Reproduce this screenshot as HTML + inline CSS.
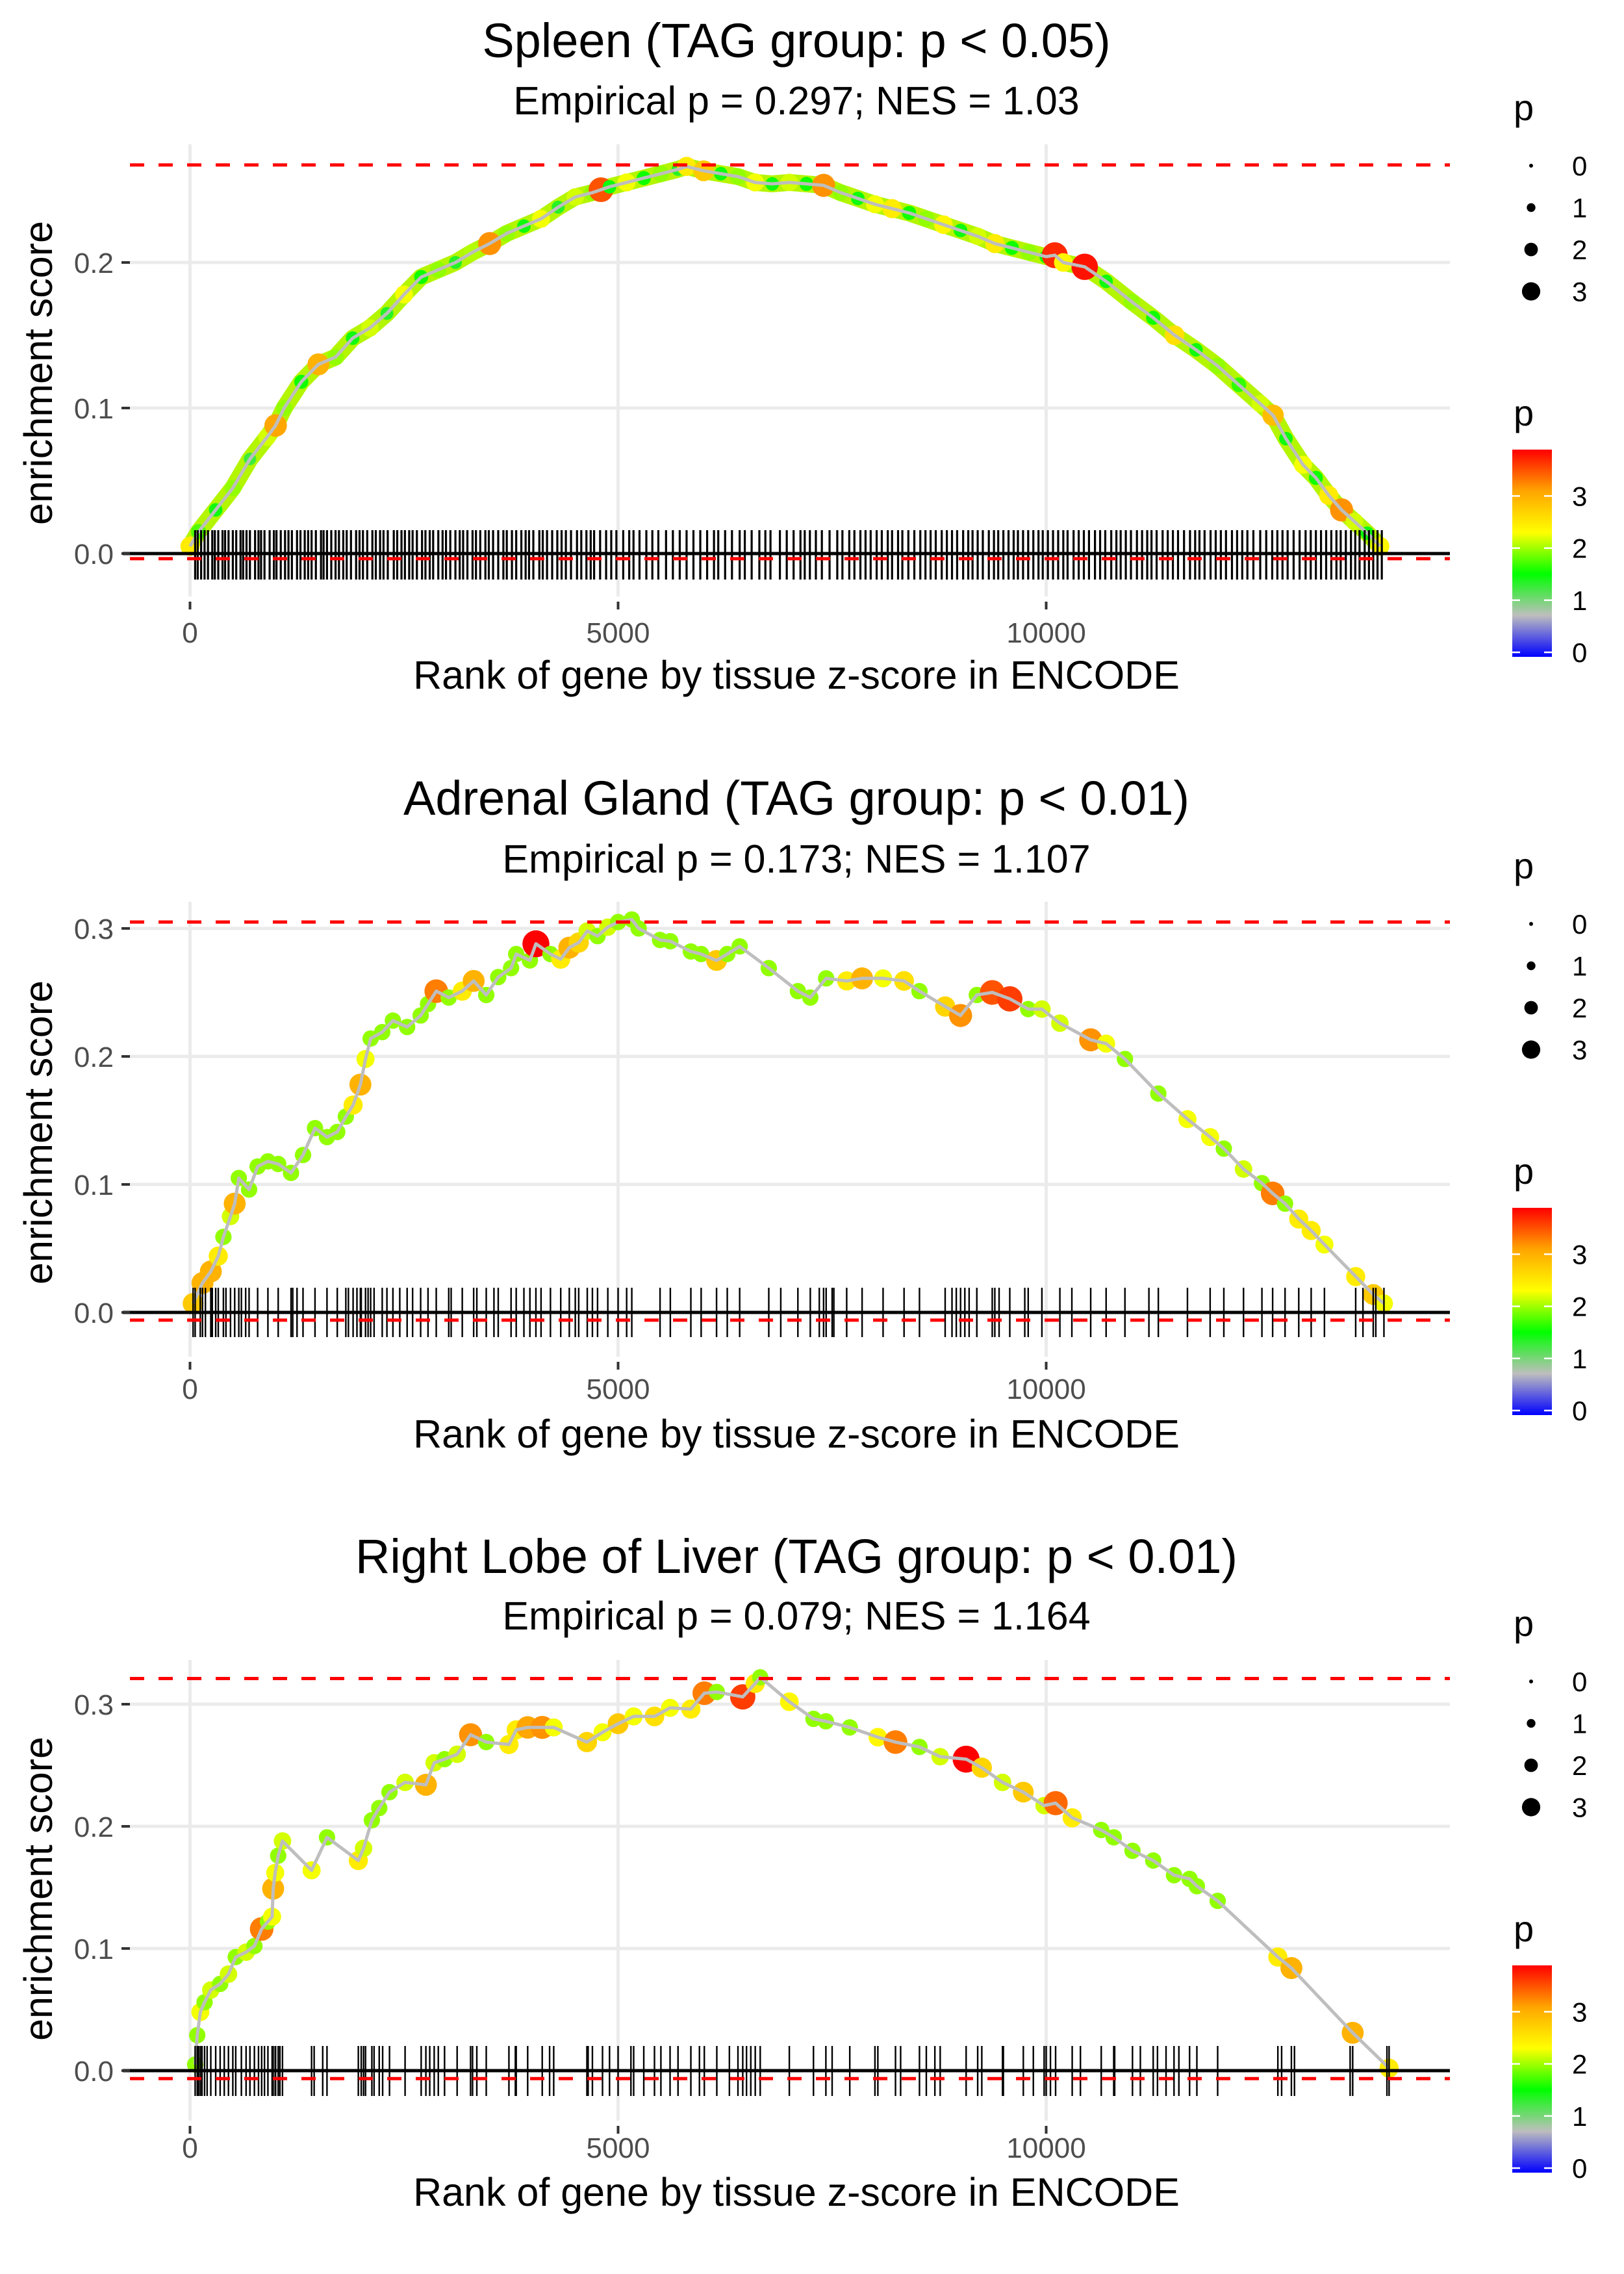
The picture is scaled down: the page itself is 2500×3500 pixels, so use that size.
<!DOCTYPE html>
<html><head><meta charset="utf-8"><style>
html,body{margin:0;padding:0;background:#fff;}
svg{display:block;font-family:"Liberation Sans",sans-serif;}
</style></head><body>
<svg id="chart" xmlns="http://www.w3.org/2000/svg" width="2500" height="3500" viewBox="0 0 2500 3500">
<defs>
<linearGradient id="pgrad" x1="0" y1="1" x2="0" y2="0">
<stop offset="0" stop-color="#0000ff"/><stop offset="0.2" stop-color="#bebebe"/><stop offset="0.4" stop-color="#00ff00"/><stop offset="0.6" stop-color="#ffff00"/><stop offset="0.8" stop-color="#ffa500"/><stop offset="1" stop-color="#ff0000"/>
</linearGradient>
</defs>
</svg>
<script>
// ---------- Panel 1: Spleen ----------
const p1Rank=[0,100,300,500,700,900,1000,1100,1300,1500,1700,1900,2100,2300,2500,2700,2900,3100,3300,3500,3700,3900,4100,4300,4500,4700,4800,4900,5100,5300,5500,5700,5800,6000,6200,6400,6600,6800,7000,7200,7400,7600,7800,8000,8200,8400,8600,8800,9000,9200,9400,9600,9800,10000,10100,10200,10450,10700,11000,11250,11500,11750,12000,12250,12500,12650,12800,13000,13150,13300,13450,13600,13750,13900];
const p1Es=[.005,.015,.03,.045,.065,.08,.088,.1,.118,.13,.135,.148,.155,.165,.178,.19,.195,.2,.207,.213,.22,.225,.23,.238,.245,.248,.25,.252,.255,.258,.261,.264,.266,.263,.261,.259,.255,.254,.255,.254,.253,.248,.244,.24,.237,.234,.23,.226,.222,.218,.213,.21,.207,.204,.205,.2,.197,.187,.173,.162,.15,.14,.129,.116,.103,.095,.079,.061,.052,.04,.03,.022,.014,.005];
const p1P=[2.5,1.8,1.5,2,1.3,2.2,3.1,2,1.6,3,2,1.5,2.2,1.4,2.3,1.6,2,1.4,2.1,3.2,2,1.5,2.3,1.4,2.2,2,3.5,1.5,2.3,1.6,2,1.4,2.5,2.8,1.5,2,2.3,1.5,2.2,1.6,3.2,2,1.5,2.3,2.5,1.6,2,2.4,1.5,2.2,2.5,1.6,2,1.5,3.7,2.4,3.8,1.5,2,1.6,2.6,1.5,2,1.7,2.2,2.9,1.5,2.3,1.6,2.5,3.2,2.2,1.5,2.4];
const p1Rug=[60,90,130,170,210,260,290,330,380,410,450,500,540,590,620,660,700,760,800,830,870,930,980,1010,1060,1110,1150,1190,1250,1290,1340,1380,1420,1470,1530,1560,1600,1650,1700,1740,1790,1830,1880,1940,1980,2020,2070,2130,2170,2220,2260,2310,2380,2420,2470,2510,2560,2600,2650,2710,2750,2800,2840,2900,2950,2990,3040,3100,3150,3190,3240,3300,3340,3390,3450,3490,3540,3600,3660,3700,3760,3810,3870,3920,3960,4010,4080,4120,4170,4230,4290,4340,4390,4450,4520,4570,4630,4680,4720,4790,4860,4920,4980,5060,5130,5180,5250,5330,5400,5470,5560,5640,5720,5800,5880,5960,6040,6120,6170,6250,6330,6420,6480,6560,6650,6720,6780,6890,6970,7050,7130,7180,7240,7310,7380,7470,7560,7620,7700,7760,7830,7890,7950,8020,8080,8150,8200,8270,8320,8390,8460,8530,8590,8650,8710,8780,8840,8900,8960,9030,9090,9140,9200,9260,9330,9390,9440,9500,9560,9620,9670,9730,9790,9850,9910,9960,10020,10080,10140,10200,10250,10320,10380,10440,10500,10570,10630,10690,10760,10820,10870,10930,10990,11060,11120,11180,11230,11290,11360,11420,11480,11540,11610,11680,11740,11790,11850,11920,11980,12040,12100,12170,12230,12290,12350,12420,12500,12570,12640,12700,12760,12820,12890,12960,13030,13090,13150,13210,13270,13330,13390,13440,13500,13560,13610,13660,13720,13770,13820,13870,13920];
const p1YTicks=[0,0.1,0.2];
const p1Max=[0.267];
const p1Min=[-0.0035];

// ---------- Panel 2: Adrenal Gland ----------
const p2Rank=[36,146,243,330,390,473,522,570,690,790,910,1030,1180,1320,1460,1600,1720,1820,1905,1990,2050,2110,2245,2370,2536,2694,2780,2876,3022,3180,3313,3460,3600,3750,3810,3970,4040,4210,4330,4430,4540,4640,4760,4880,5000,5160,5240,5490,5610,5850,5970,6150,6275,6420,6760,7100,7245,7430,7670,7850,8095,8340,8520,8820,9000,9190,9370,9575,9790,9950,10160,10520,10700,10920,11310,11650,11915,12075,12305,12520,12645,12790,12950,13095,13250,13615,13820,13945];
const p2Es=[.007,.023,.032,.044,.059,.075,.085,.105,.096,.114,.118,.116,.109,.123,.144,.137,.141,.153,.162,.178,.198,.214,.219,.228,.223,.232,.241,.251,.246,.251,.259,.248,.262,.269,.28,.275,.288,.28,.276,.285,.289,.298,.294,.301,.305,.307,.3,.291,.29,.282,.28,.275,.28,.286,.269,.251,.246,.261,.259,.261,.261,.259,.251,.239,.232,.248,.25,.245,.237,.237,.226,.213,.21,.198,.171,.151,.137,.128,.112,.101,.093,.085,.073,.064,.053,.028,.014,.007];
const p2P=[2.8,3,3,2.5,2,2.2,3,2,2,2,2,2,2,2,2,2,2,2,2.5,3,2.3,2,2,2,2,2,2,3.3,2,2.5,3,2,2,2,2,2,3.9,2,2.5,3,2.7,2.2,2,2.2,2,2,2,2,2,2,2,2.8,2,2,2,2,2,2,2.5,3,2.3,2.6,2,2.7,3.2,2,3.5,3.6,2,2.2,2.2,3.2,2.3,2,2,2.3,2.3,2,2.2,2,3.3,2,2.5,2.5,2.3,2.5,2.8,2.3];
const p2Rug=[36,60,120,146,180,243,260,300,330,390,420,473,522,570,600,650,690,790,910,1030,1180,1200,1250,1320,1460,1600,1720,1820,1850,1905,1950,1990,2000,2050,2080,2110,2150,2245,2300,2370,2450,2536,2600,2694,2780,2876,3022,3050,3180,3313,3350,3460,3550,3600,3750,3810,3900,3970,4040,4100,4210,4330,4430,4500,4540,4640,4700,4760,4880,5000,5100,5160,5490,5610,5850,5970,6150,6275,6420,6760,6900,7100,7245,7350,7400,7430,7500,7520,7670,7850,8095,8340,8520,8820,8900,8950,9000,9050,9100,9190,9370,9400,9450,9575,9750,9790,9950,10160,10300,10520,10700,10920,11200,11310,11650,11915,12075,12305,12520,12645,12790,12950,13095,13250,13615,13700,13820,13850,13945];
const p2YTicks=[0,0.1,0.2,0.3];
const p2Max=[0.305];
const p2Min=[-0.006];

// ---------- Panel 3: Right Lobe of Liver ----------
const p3Rank=[60,85,121,170,243,352,449,534,655,752,837,910,959,971,995,1030,1080,1420,1600,1966,2027,2124,2210,2330,2512,2755,2852,2973,3120,3277,3460,3725,3810,3944,4114,4248,4636,4818,5000,5182,5425,5607,5850,6007,6153,6456,6602,6660,7000,7282,7427,7706,8034,8240,8520,8762,9065,9248,9490,9733,9976,10110,10304,10643,10789,11008,11250,11493,11675,11760,12003,12706,12864,13580,14005];
const p3Es=[.005,.029,.048,.056,.066,.071,.079,.093,.097,.102,.116,.122,.126,.149,.162,.176,.188,.164,.191,.172,.182,.205,.215,.228,.236,.234,.252,.255,.259,.275,.269,.267,.279,.281,.281,.281,.269,.277,.284,.29,.29,.297,.296,.309,.31,.306,.317,.322,.302,.288,.286,.281,.273,.269,.265,.257,.255,.248,.236,.228,.217,.219,.207,.197,.191,.18,.172,.16,.157,.151,.139,.093,.084,.031,.002];
const p3P=[2,2,2.3,2,2.2,2,2.2,2,2.2,2,3.3,2,2.3,3,2.3,2,2.2,2.3,2,2.5,2.2,2,2,2,2.2,3,2.2,2,2.2,3.2,2,2.5,2.5,3.1,3.2,2.3,2.7,2.3,2.8,2.3,2.6,2.3,2.5,3.3,2,3.6,2.5,2,2.4,2,2,2,2.4,3.3,2,2.2,3.9,2.7,2.2,2.8,2.2,3.4,2.5,2,2,2,2,2,2,2,2,2.5,3,3,2.5];
const p3Rug=[60,85,100,121,140,170,200,243,300,352,400,449,500,534,600,655,700,752,800,837,870,910,959,971,995,1000,1030,1050,1080,1420,1450,1550,1600,1966,2000,2027,2050,2124,2150,2210,2250,2330,2512,2700,2755,2800,2852,2900,2973,3120,3277,3300,3350,3460,3725,3800,3810,3944,4114,4200,4248,4636,4650,4700,4818,4900,5000,5150,5182,5300,5425,5500,5607,5700,5850,5950,6007,6153,6300,6400,6456,6500,6550,6602,6660,7000,7282,7427,7500,7706,8000,8034,8240,8300,8520,8600,8700,8762,9065,9200,9248,9490,9500,9733,9850,9976,10000,10050,10110,10304,10400,10643,10789,10800,11008,11100,11250,11300,11400,11493,11550,11675,11760,12003,12706,12750,12864,12900,13550,13580,13980,14005];
const p3YTicks=[0,0.1,0.2,0.3];
const p3Max=[0.321];
const p3Min=[-0.0065];

const xTicks=[0,5000,10000];
const legendVals=[0,1,2,3];
const cbarVals=[0,1,2,3];

const NS='http://www.w3.org/2000/svg';
const svg=document.getElementById('chart');
function mk(tag,attrs,parent,text){
  const e=document.createElementNS(NS,tag);
  for(const k in attrs) e.setAttribute(k,attrs[k]);
  if(text!==undefined) e.textContent=text;
  (parent||svg).appendChild(e);
  return e;
}
const X0=292.5, XPER=659/5000, PL=200, PR=2232, PMAX=3.89;
const xs=r=>X0+r*XPER;
const stops=[[0,[0,0,255]],[0.778,[190,190,190]],[1.556,[0,255,0]],[2.333,[255,255,0]],[3.111,[255,165,0]],[3.889,[255,0,0]]];
function pColor(p){
  if(p<=0) return 'rgb(0,0,255)';
  for(let i=1;i<stops.length;i++){
    if(p<=stops[i][0]){
      const t=(p-stops[i-1][0])/(stops[i][0]-stops[i-1][0]);
      const a=stops[i-1][1], b=stops[i][1];
      return 'rgb('+a.map((v,j)=>Math.round(v+(b[j]-v)*t)).join(',')+')';
    }
  }
  return 'rgb(255,0,0)';
}
const pR=p=>3+p*3.7;
const ptR=p=>4+p*4.3;

function panel(cfg, rank, es, pv, rug, yticks, maxv, minv){
  const g=mk('g',{});
  
  
  const ys=v=>cfg.zero-v*cfg.unit;
  yticks.forEach(t=>{
    const l=mk('line',{x1:PL,x2:PR,y1:ys(t),y2:ys(t),stroke:'#ebebeb','stroke-width':5},g);
    
    
  });
  xTicks.forEach(t=>{
    const l=mk('line',{x1:xs(t),x2:xs(t),y1:cfg.gTop,y2:cfg.gBot,stroke:'#ebebeb','stroke-width':5},g);
    
    
  });
  const pts=rank.map((r,i)=>xs(r).toFixed(1)+','+ys(es[i]).toFixed(1)).join(' ');
  if(cfg.band){
    const b=mk('polyline',{points:pts,fill:'none',stroke:'#b4f500','stroke-width':26,'stroke-linejoin':'round','stroke-linecap':'round'},g);
    
    
  }
  rank.forEach((r,i)=>{
    const c=mk('circle',{cx:xs(r),cy:ys(es[i]),r:ptR(pv[i]),fill:pColor(pv[i])},g);
    
    
  });
  const ln=mk('polyline',{points:pts,fill:'none',stroke:'#bebebe','stroke-width':5,'stroke-linejoin':'round'},g);
  
  
  rug.forEach(r=>{
    const t=mk('line',{x1:xs(r),x2:xs(r),y1:cfg.rugTop,y2:cfg.rugBot,stroke:'#000','stroke-width':cfg.rugW},g);
    
    
  });
  const z=mk('line',{x1:189,x2:PR,y1:ys(0),y2:ys(0),stroke:'#000','stroke-width':5},g);
  
  
  [maxv[0],minv[0]].forEach((v,k)=>{
    const d=mk('line',{x1:PL,x2:PR,y1:ys(v),y2:ys(v),stroke:'#ff0000','stroke-width':5,'stroke-dasharray':'22,22'},g);
    
    
  });
  yticks.forEach(t=>{
    const tk=mk('line',{x1:187,x2:200,y1:ys(t),y2:ys(t),stroke:'#333','stroke-width':4},g);
    
    
    const lb=mk('text',{x:175,y:ys(t)+16,'text-anchor':'end','font-size':44,fill:'#4d4d4d'},g,t.toFixed(1));
    
    
  });
  xTicks.forEach(t=>{
    const tk=mk('line',{x1:xs(t),x2:xs(t),y1:cfg.gBot+8,y2:cfg.gBot+20,stroke:'#333','stroke-width':4},g);
    
    
    const lb=mk('text',{x:xs(t),y:cfg.xtickY,'text-anchor':'middle','font-size':44,fill:'#4d4d4d'},g,String(t));
    
    
  });
  const tt=mk('text',{x:1226,y:cfg.titleY,'text-anchor':'middle','font-size':74,fill:'#000'},g,cfg.title);
  
  
  const st=mk('text',{x:1226,y:cfg.subY,'text-anchor':'middle','font-size':61,fill:'#000'},g,cfg.sub);
  
  
  const xt=mk('text',{x:1226,y:cfg.xtitleY,'text-anchor':'middle','font-size':61,fill:'#000'},g,'Rank of gene by tissue z-score in ENCODE');
  
  
  const yt=mk('text',{x:0,y:0,'text-anchor':'middle','font-size':61,fill:'#000',transform:'translate(80,'+cfg.ytitleY+') rotate(-90)'},g,'enrichment score');
  
  
  const L=cfg.L;
  const sl=mk('text',{x:2330,y:L,'font-size':56,fill:'#000'},g,'p');
  
  
  legendVals.forEach((v,i)=>{
    const cy=L+70+64.5*i;
    const c=mk('circle',{cx:2357,cy:cy,r:pR(v),fill:'#000'},g);
    
    
    const t=mk('text',{x:2420,y:cy+15,'font-size':42,fill:'#000'},g,String(v));
    
    
  });
  const cl=mk('text',{x:2330,y:L+470,'font-size':56,fill:'#000'},g,'p');
  
  
  const bt=L+507, bh=319, zeroY=bt+bh-7, per=(bh-7)/PMAX;
  const bar=mk('rect',{x:2328,y:bt,width:61,height:bh,fill:'url(#pgrad)'},g);
  
  
  cbarVals.forEach(v=>{
    const y=zeroY-v*per;
    [[2328,2340],[2377,2389]].forEach(xx=>{
      const m=mk('line',{x1:xx[0],x2:xx[1],y1:y,y2:y,stroke:'#fff','stroke-width':2.5},g);
      
      
    });
    const t=mk('text',{x:2420,y:y+15,'font-size':42,fill:'#000'},g,String(v));
    
    
  });
}

panel({name:'spleen-panel',zero:852,unit:2240,gTop:222,gBot:918,rugTop:816,rugBot:892,rugW:3.2,titleY:88,subY:176,xtickY:989,xtitleY:1060,ytitleY:574,L:185,band:true,
  title:'Spleen (TAG group: p < 0.05)',sub:'Empirical p = 0.297; NES = 1.03'},p1Rank,p1Es,p1P,p1Rug,p1YTicks,p1Max,p1Min);
panel({name:'adrenal-gland-panel',zero:2020,unit:1970,gTop:1388,gBot:2088,rugTop:1982,rugBot:2058,rugW:2.4,titleY:1254,subY:1343,xtickY:2153,xtitleY:2228,ytitleY:1743,L:1352,band:false,
  title:'Adrenal Gland (TAG group: p < 0.01)',sub:'Empirical p = 0.173; NES = 1.107'},p2Rank,p2Es,p2P,p2Rug,p2YTicks,p2Max,p2Min);
panel({name:'liver-panel',zero:3187,unit:1880,gTop:2555,gBot:3264,rugTop:3149,rugBot:3226,rugW:2.4,titleY:2421,subY:2508,xtickY:3321,xtitleY:3395,ytitleY:2907,L:2518,band:false,
  title:'Right Lobe of Liver (TAG group: p < 0.01)',sub:'Empirical p = 0.079; NES = 1.164'},p3Rank,p3Es,p3P,p3Rug,p3YTicks,p3Max,p3Min);
</script>
</body></html>
